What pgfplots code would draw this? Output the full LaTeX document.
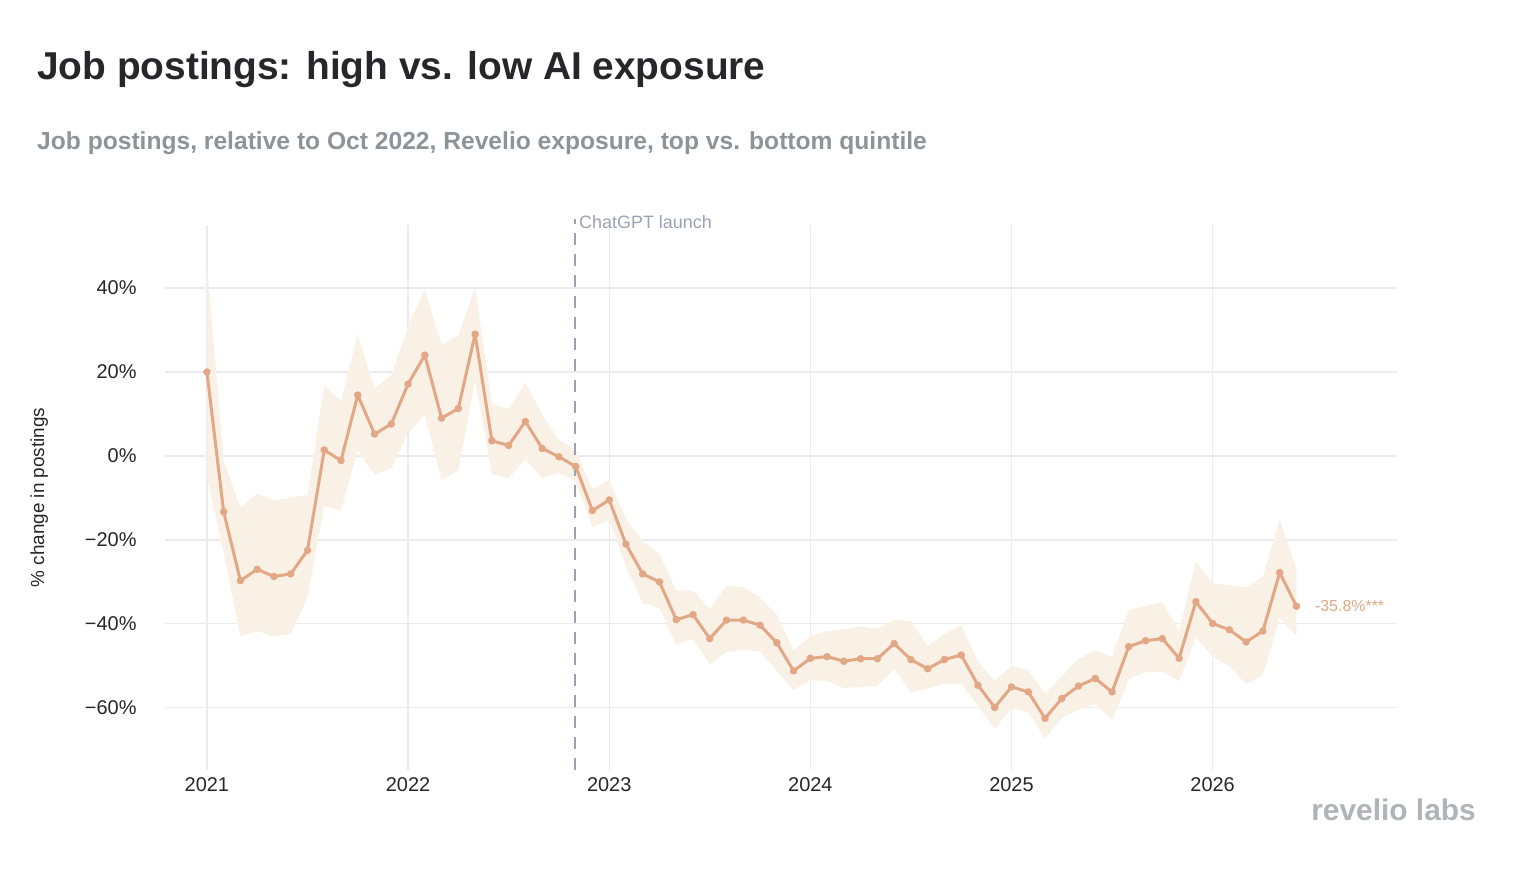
\documentclass[border=0pt]{standalone}
\usepackage{pgfplots}
\pgfplotsset{compat=1.18}
\usepackage{pgfplotstable}
\usepgfplotslibrary{fillbetween}
\usepackage{fontspec}
\setmainfont{Liberation Sans}
\definecolor{linec}{HTML}{E2A784}
\definecolor{bandc}{HTML}{F9F0E6}
\definecolor{gridc}{HTML}{EBEBEF}
\definecolor{subc}{HTML}{8C9399}
\definecolor{dashc}{HTML}{9AA1B0}
\definecolor{titlec}{HTML}{26262B}
\pgfplotstableread{
m v u l
0 20 46 -5
1 -13.3 -1 -23
2 -29.7 -12.4 -43
3 -27 -9 -41.7
4 -28.7 -10.6 -43
5 -28.1 -10 -42.4
6 -22.5 -9.3 -33.7
7 1.4 16.7 -12
8 -1.1 13 -13
9 14.5 29 1.3
10 5.2 16 -4.5
11 7.6 19.3 -3
12 17.1 30.8 5.5
13 24 39.7 9.7
14 9 26.4 -5.7
15 11.3 28.6 -3.5
16 29 40 18
17 3.6 12.4 -4.4
18 2.5 11.2 -5.3
19 8.2 17.5 -0.8
20 1.8 9.8 -5.3
21 -0.2 3.8 -4
22 -2.5 1.4 -6
23 -13 -8 -17
24 -10.5 -5.8 -15.3
25 -21 -14.9 -26.3
26 -28.1 -20.4 -35
27 -30 -23.3 -36.2
28 -39 -32.1 -44.9
29 -37.8 -32.1 -43.6
30 -43.5 -36.4 -49.6
31 -39.1 -31 -46.7
32 -39.1 -31.2 -46.2
33 -40.3 -33.8 -46.6
34 -44.5 -37.8 -51.2
35 -51.2 -46.3 -55.7
36 -48.2 -42.9 -53.4
37 -47.8 -41.7 -53.6
38 -48.9 -41.3 -55.3
39 -48.3 -40.6 -55
40 -48.3 -41.2 -54.8
41 -44.7 -39 -50.7
42 -48.5 -39.4 -56.3
43 -50.7 -45.3 -55.4
44 -48.5 -42.4 -54.2
45 -47.4 -40.3 -54.2
46 -54.6 -49 -59.5
47 -59.9 -53.6 -65
48 -55 -50 -60
49 -56.2 -51 -61
50 -62.5 -56.6 -67.3
51 -57.8 -52.5 -62.5
52 -54.8 -48.4 -60.5
53 -53 -46.3 -59.1
54 -56.2 -47.8 -62.9
55 -45.4 -36.7 -53.2
56 -44 -35.7 -51.4
57 -43.5 -34.8 -51.4
58 -48.2 -41.7 -53.6
59 -34.7 -25.2 -43.3
60 -39.9 -30.3 -47.8
61 -41.4 -30.8 -50
62 -44.3 -31.3 -54.4
63 -41.7 -28.7 -52.2
64 -27.8 -15.2 -38.5
65 -35.8 -26.8 -43
}\datatab
\begin{document}
\begin{tikzpicture}[x=1bp,y=1bp]
\path (0,0) rectangle (1536,880);
\node[anchor=base west,font=\fontsize{39}{44}\selectfont\bfseries,text=titlec,inner sep=0] at (37,880-80) {Job postings: high vs. low AI exposure};
\node[anchor=base west,font=\fontsize{24.7}{27}\selectfont\bfseries,text=subc,inner sep=0] at (37,880-150) {Job postings, relative to Oct 2022, Revelio exposure, top vs. bottom quintile};
\begin{axis}[
  at={(165bp,110bp)}, anchor=south west,
  scale only axis, width=1232bp, height=545bp,
  xmin=-2.5, xmax=71, ymin=-74.8, ymax=55,
  axis line style={draw=none}, major tick length=0pt,
  xtick={0,12,24,36,48,60}, xticklabels={2021,2022,2023,2024,2025,2026},
  ytick={-60,-40,-20,0,20,40},
  yticklabels={−60\%,−40\%,−20\%,0\%,20\%,40\%},
  ticklabel style={font=\fontsize{20}{22}\selectfont, text=titlec},
  xticklabel style={yshift=-4bp},
  yticklabel style={xshift=-25bp},
  grid=major, major grid style={gridc, line width=1.2bp},
  ylabel={\% change in postings},
  every axis y label/.style={at={(ticklabel cs:0.5)},rotate=90,anchor=south,yshift=30bp,font=\fontsize{19}{22}\selectfont,text=titlec},
  clip=false,
]
\addplot[name path=up, draw=none] table[x=m,y=u]{\datatab};
\addplot[name path=lo, draw=none] table[x=m,y=l]{\datatab};
\addplot[bandc, fill opacity=1] fill between[of=up and lo];
\draw[dashc, line width=2bp, dash pattern=on 12bp off 9bp] (axis cs:21.97,-74.8) -- (axis cs:21.97,56.5);
\node[anchor=base west, text=dashc, font=\fontsize{18}{20}\selectfont, inner sep=0] at (axis cs:22.2,54.2) {ChatGPT launch};
\addplot[linec, line width=3bp, mark=*, mark size=2.2bp, line join=round] table[x=m,y=v]{\datatab};
\node[anchor=west, text=linec, font=\fontsize{16}{18}\selectfont, inner sep=0] at (axis cs:66.1,-35.8) {-35.8\%***};
\end{axis}
\node[anchor=base east, text=subc!70, font=\fontsize{30}{32}\selectfont\bfseries, inner sep=0] at (1476,880-820) {revelio labs};
\end{tikzpicture}
\end{document}
